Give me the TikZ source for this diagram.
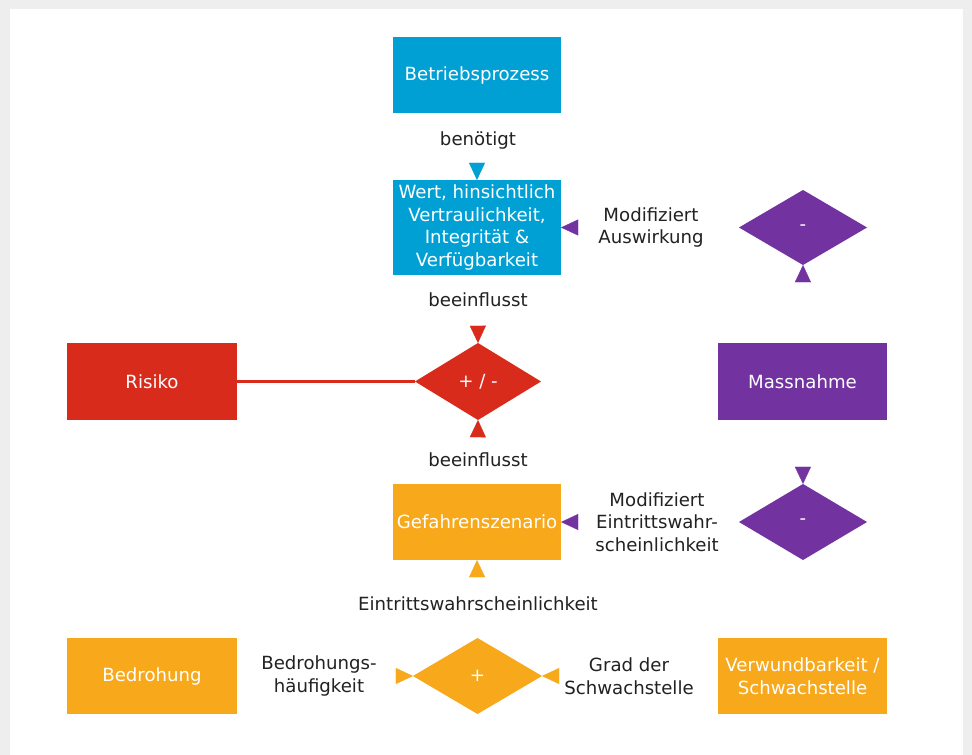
\documentclass[tikz,border=0pt]{standalone}
\usepackage{fontspec}
\setmainfont{DejaVu Sans}
\usetikzlibrary{arrows.meta, shapes.geometric}
\definecolor{cblue}{HTML}{00A0D4}
\definecolor{cred}{HTML}{D92B1C}
\definecolor{cpurple}{HTML}{7232A0}
\definecolor{corange}{HTML}{F7A81B}
\definecolor{cbg}{HTML}{EEEEEE}
\definecolor{ctext}{HTML}{222222}
\tikzset{
  every picture/.style={font=\fontsize{12.9pt}{16pt}\selectfont},
  box/.style={fill=#1, text=white, align=center, inner sep=2pt, outer sep=0pt, minimum width=4.2cm, minimum height=1.9cm},
  rhomb/.style={diamond, fill=#1, text=white, inner sep=0pt, outer sep=0pt, minimum width=3.2cm, minimum height=1.9cm},
  head/.style={draw=white, line width=0.2pt, -{Triangle[length=4.3mm, width=4mm, color=#1, fill=#1]}},
  lbl/.style={text=ctext, align=center},
}

\begin{document}
\begin{tikzpicture}[x=0.025cm, y=-0.025cm]
  % frame
  \fill[cbg] (0,0) rectangle (972,755);
  \fill[white] (10,9) rectangle (963,755);
  % boxes
  \node[box=cblue] (bp) at (477,75) {Betriebsprozess};
  \node[box=cblue, minimum height=2.375cm] (wert) at (477,227.5) {Wert, hinsichtlich\\Vertraulichkeit,\\Integrität \&\\Verfügbarkeit};
  \node[box=cred, minimum width=4.25cm, minimum height=1.925cm] (risiko) at (152,381.5) {Risiko};
  \node[box=cpurple, minimum width=4.225cm, minimum height=1.925cm] (mass) at (802.5,381.5) {Massnahme};
  \node[box=corange] (gef) at (477,522) {Gefahrenszenario};
  \node[box=corange, minimum width=4.25cm] (bed) at (152,676) {Bedrohung};
  \node[box=corange, minimum width=4.225cm] (verw) at (802.5,676) {Verwundbarkeit /\\Schwachstelle};
  % diamonds
  \node[rhomb=cred, minimum width=3.15cm, minimum height=1.925cm] (pm) at (478,381.5) {+ / -};
  \node[rhomb=cpurple, minimum height=1.875cm] (dtop) at (803,227.5) {-};
  \node[rhomb=cpurple] (dbot) at (803,522) {-};
  \node[rhomb=corange, minimum width=3.225cm] (dor) at (477.5,676) {+};
  % connectors
  \draw[cred, line width=1.5pt] (risiko) -- (pm);
  \draw[head=cblue] (bp) -- (wert);
  \draw[head=cpurple] (dtop) -- (wert.east);
  \draw[head=cpurple] (mass) -- (dtop.south);
  \draw[head=cpurple] (mass) -- (dbot.north);
  \draw[head=cpurple] (dbot) -- (gef.east);
  \draw[head=cred] (wert) -- (pm.north);
  \draw[head=cred] (gef) -- (pm.south);
  \draw[head=corange] (dor) -- (gef.south);
  \draw[head=corange] (bed) -- (dor.west);
  \draw[head=corange] (verw) -- (dor.east);
  % labels
  \node[lbl] (lbenoetigt) at (478,140) {benötigt};
  \node[lbl] (lbeeinfl1) at (478,300) {beeinflusst};
  \node[lbl] (lbeeinfl2) at (478,460) {beeinflusst};
  \node[lbl] (lmodausw) at (651,227.5) {Modifiziert\\Auswirkung};
  \node[lbl] (lmodeintr) at (657,522) {Modifiziert\\Eintrittswahr-\\scheinlichkeit};
  \node[lbl] (leintr) at (478,604) {Eintrittswahrscheinlichkeit};
  \node[lbl] (lhaeuf) at (319,676) {Bedrohungs-\\häufigkeit};
  \node[lbl] (lgrad) at (629,676) {Grad der\\Schwachstelle};
\end{tikzpicture}
\end{document}
